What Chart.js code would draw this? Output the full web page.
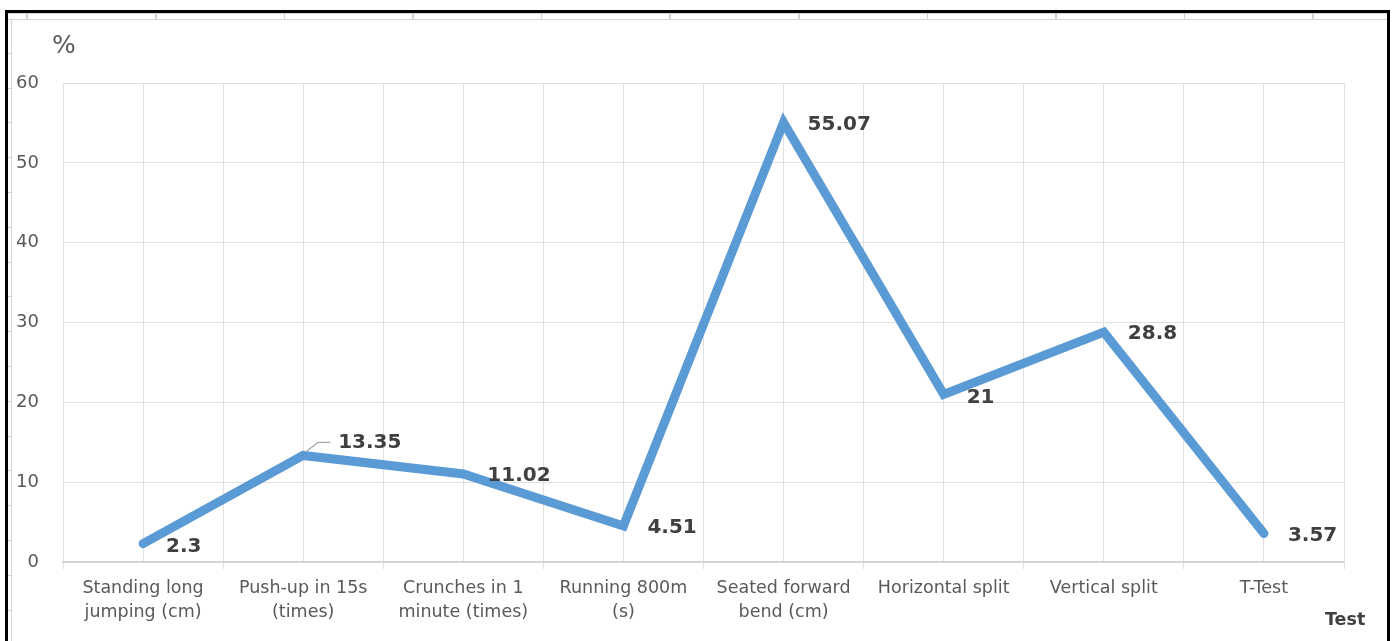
<!DOCTYPE html>
<html>
<head>
<meta charset="utf-8">
<title>Test results (%)</title>
<script src="https://cdn.jsdelivr.net/npm/chart.js@4.4.1/dist/chart.umd.min.js"></script>
<style>
  html, body { margin: 0; padding: 0; background: #fff; width: 1394px; height: 641px; overflow: hidden; }
  /* worksheet frame around the chart object */
  .frame { position: absolute; left: 5px; top: 10px; width: 1379px; height: 640px;
           border: 3px solid #000; border-bottom: none; }
  .colband { position: absolute; left: 8px; top: 13px; width: 1379px; height: 5px;
             border-top: 1px solid #d4d4d4; border-bottom: 1px solid #d4d4d4;
             background: repeating-linear-gradient(to right, transparent 0, transparent 18.5px, #cfcfcf 18.5px, #cfcfcf 20px, transparent 20px, transparent 128.6px); }
  .rowband { position: absolute; left: 8px; top: 19px; width: 3px; height: 622px;
             border-right: 1px solid #d4d4d4;
             background: repeating-linear-gradient(to bottom, transparent 0, transparent 33.8px, #cfcfcf 33.8px, #cfcfcf 34.8px); }
  #wrap { position: absolute; left: 0; top: 0; width: 1394px; height: 641px; }
</style>
</head>
<body>
<div class="frame"></div>
<div class="colband"></div>
<div class="rowband"></div>
<div id="wrap"><canvas id="chart" width="1394" height="641"></canvas></div>
<script>
// Test categories (multi-line labels as drawn under the axis)
const categories = [
  ["Standing long", "jumping (cm)"],
  ["Push-up in 15s", "(times)"],
  ["Crunches in 1", "minute (times)"],
  ["Running 800m", "(s)"],
  ["Seated forward", "bend (cm)"],
  "Horizontal split",
  "Vertical split",
  "T-Test"
];
// Percentage per test
const percentValues = [2.3, 13.35, 11.02, 4.51, 55.07, 21, 28.8, 3.57];
// Y axis tick values
const yTickValues = [0, 10, 20, 30, 40, 50, 60];

// Where each value label sits relative to its point [dx, dy]
const labelOffsets = [[23, 3], [35, -13], [24, 2], [24, 1.5], [24, 2], [23, 3], [24, 2], [24, 2]];

const FONT = '"DejaVu Sans", "Open Sans", sans-serif';
const GRID = '#e0e0e0';

const valueLabelPlugin = {
  id: 'valueLabels',
  afterDatasetsDraw(chart) {
    const ctx = chart.ctx;
    const meta = chart.getDatasetMeta(0);
    ctx.save();
    // leader line for the push-up label
    const p = meta.data[1];
    ctx.strokeStyle = '#a6a6a6';
    ctx.lineWidth = 1.2;
    ctx.beginPath();
    ctx.moveTo(p.x + 3, p.y - 4);
    ctx.lineTo(p.x + 15, p.y - 13);
    ctx.lineTo(p.x + 27, p.y - 13);
    ctx.stroke();

    ctx.font = 'bold 20px ' + FONT;
    ctx.fillStyle = '#404040';
    ctx.textAlign = 'left';
    ctx.textBaseline = 'middle';
    meta.data.forEach((pt, i) => {
      const [dx, dy] = labelOffsets[i];
      ctx.fillText(String(percentValues[i]), pt.x + dx, pt.y + dy);
    });

    // axis captions
    ctx.font = '25px ' + FONT;
    ctx.fillStyle = '#595959';
    ctx.textBaseline = 'alphabetic';
    ctx.fillText('%', 52, 53);
    ctx.font = 'bold 17.5px ' + FONT;
    ctx.fillStyle = '#404040';
    ctx.fillText('Test', 1325, 625);
    ctx.restore();
  }
};

new Chart(document.getElementById('chart'), {
  type: 'line',
  data: {
    labels: categories,
    datasets: [{
      data: percentValues,
      borderColor: '#5b9bd5',
      borderWidth: 9,
      borderCapStyle: 'round',
      borderJoinStyle: 'miter',
      pointRadius: 0,
      pointHoverRadius: 0,
      tension: 0,
      fill: false
    }]
  },
  options: {
    responsive: false,
    animation: false,
    events: [],
    layout: { padding: { left: 0, right: 50, top: 83, bottom: 0 } },
    plugins: { legend: { display: false }, tooltip: { enabled: false } },
    scales: {
      x: {
        type: 'category',
        position: 'bottom',
        offset: true,
        grid: { offset: true, color: GRID, tickLength: 7, drawTicks: true },
        border: { color: '#d0d0d0', width: 1.5 },
        ticks: {
          color: '#595959',
          font: { family: FONT, size: 17.5, lineHeight: 1.37 },
          padding: 7,
          maxRotation: 0,
          autoSkip: false
        },
        afterFit(scale) { scale.height = 79; }
      },
      xMid: {
        type: 'category',
        position: 'top',
        labels: categories,
        offset: true,
        grid: { offset: false, color: GRID, drawTicks: false },
        border: { display: false },
        ticks: { display: false },
        afterFit(scale) { scale.height = 0; }
      },
      y: {
        min: 0,
        max: 60,
        afterBuildTicks(scale) { scale.ticks = yTickValues.map(v => ({ value: v })); },
        grid: { color: GRID, drawTicks: false },
        border: { display: false },
        ticks: {
          color: '#595959',
          font: { family: FONT, size: 18 },
          padding: 24
        },
        afterFit(scale) { scale.width = 63; }
      }
    }
  },
  plugins: [valueLabelPlugin]
});
</script>
</body>
</html>
